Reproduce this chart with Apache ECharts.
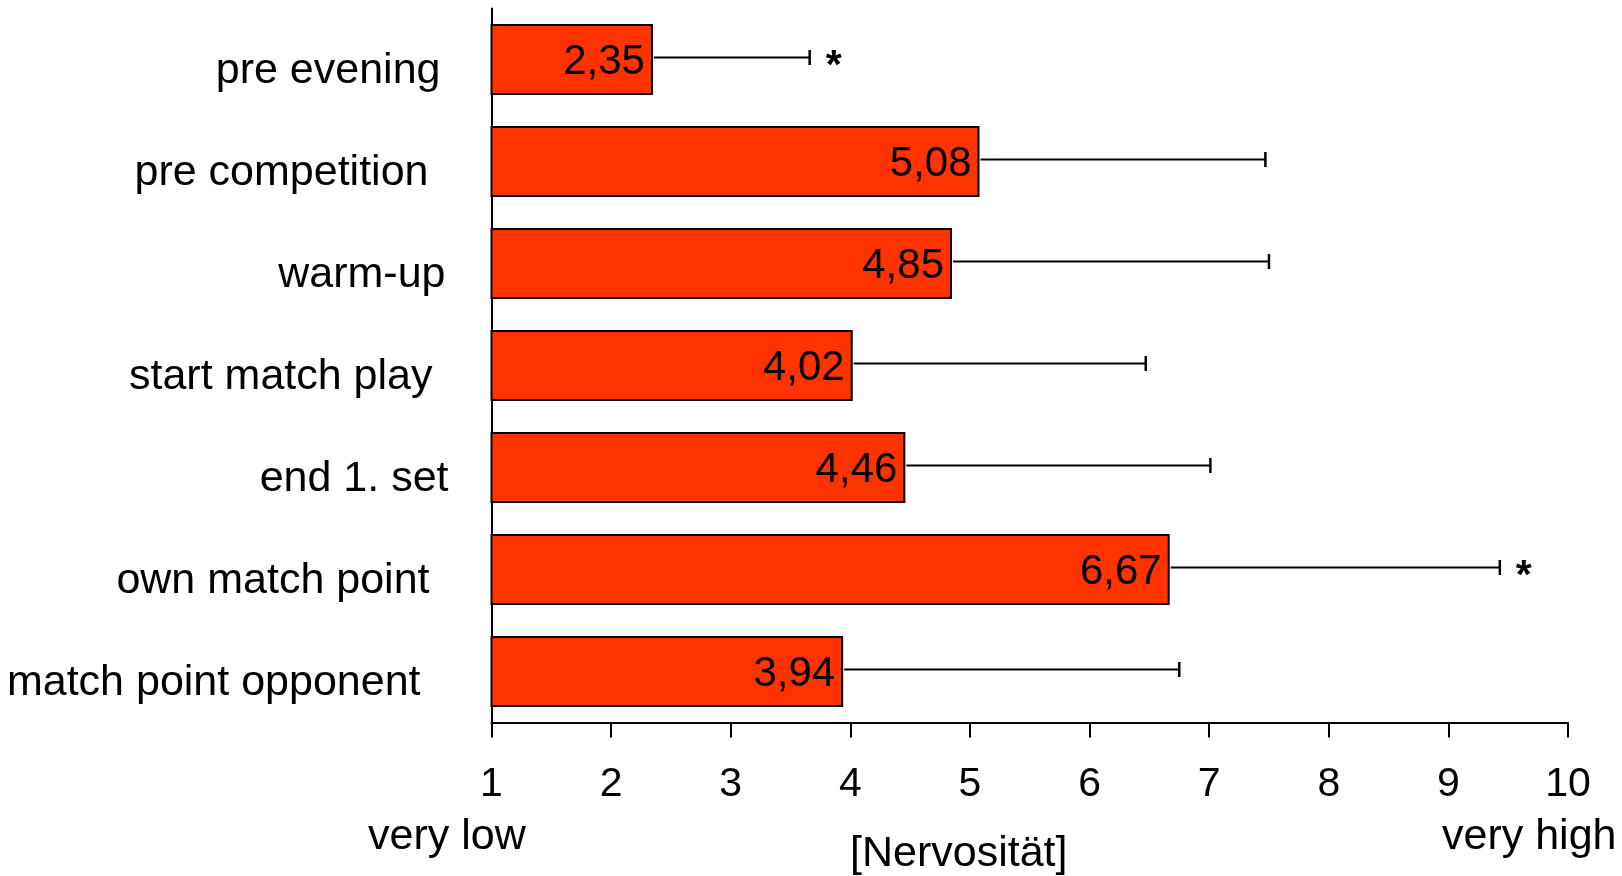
<!DOCTYPE html>
<html>
<head>
<meta charset="utf-8">
<title>Nervosität</title>
<script src="https://cdn.jsdelivr.net/npm/echarts@6/dist/echarts.min.js"></script>
<style>
  html, body { margin: 0; padding: 0; background: #ffffff; }
  #chart { width: 1622px; height: 876px; }
</style>
</head>
<body>
<div id="chart"></div>
<script>
// Phases of the match (top to bottom)
const categories = [
  'pre evening',
  'pre competition',
  'warm-up',
  'start match play',
  'end 1. set',
  'own match point',
  'match point opponent'
];
// Mean nervousness rating (scale 1 = very low ... 10 = very high)
const means = [2.35, 5.08, 4.85, 4.02, 4.46, 6.67, 3.94];
// Standard deviation (drawn as one-sided error bar)
const sds = [1.31, 2.39, 2.65, 2.45, 2.55, 2.76, 2.81];
// Significance markers
const marks = ['*', '', '', '', '', '*', ''];
// Value axis tick values
const ticks = [1, 2, 3, 4, 5, 6, 7, 8, 9, 10];

const FONT = '"Liberation Sans", Arial, Helvetica, sans-serif';
const FS = 41;     // tick and value labels
const FS_CAT = 43; // category names and captions

// Small per-label right indents of the category names
const labelIndent = [8, 20, 3, 16, 0, 19, 28];
const richLabels = {};
labelIndent.forEach(function (pad, i) {
  richLabels['c' + i] = {
    fontFamily: FONT, fontSize: FS_CAT, color: '#000',
    padding: [24, pad, 0, 0]
  };
});

const fmt = function (v) { return v.toFixed(2).replace('.', ','); };

const chart = echarts.init(document.getElementById('chart'));

chart.setOption({
  backgroundColor: '#ffffff',
  animation: false,
  grid: {
    left: 491.5, right: 54, top: 8.5, bottom: 153.5,
    containLabel: false,
    outerBoundsMode: 'none'
  },
  xAxis: {
    type: 'value',
    min: ticks[0],
    max: ticks[ticks.length - 1],
    interval: 1,
    splitLine: { show: false },
    axisLine: { show: true, lineStyle: { color: '#000', width: 2 } },
    axisTick: { show: true, length: 15, lineStyle: { color: '#000', width: 2 } },
    axisLabel: {
      margin: 42,
      fontFamily: FONT, fontSize: FS, color: '#000',
      formatter: function (v) { return ticks.indexOf(v) >= 0 ? String(v) : ''; }
    },
    name: '[Nervosität]',
    nameLocation: 'middle',
    nameGap: 110,
    nameTextStyle: {
      fontFamily: FONT, fontSize: FS_CAT, color: '#000',
      padding: [0, 142, 0, 0]
    }
  },
  yAxis: {
    type: 'category',
    inverse: true,
    data: categories,
    axisLine: { show: true, lineStyle: { color: '#000', width: 2 } },
    axisTick: { show: false },
    axisLabel: {
      margin: 43,
      formatter: function (v) {
        const i = categories.indexOf(v);
        return '{c' + i + '|' + v + '}';
      },
      rich: richLabels
    }
  },
  graphic: [
    {
      type: 'text', left: 368, top: 816,
      style: { text: 'very low', fontFamily: FONT, fontSize: FS_CAT, fill: '#000' }
    },
    {
      type: 'text', left: 1442, top: 816,
      style: { text: 'very high', fontFamily: FONT, fontSize: FS_CAT, fill: '#000' }
    }
  ],
  series: [
    {
      type: 'bar',
      data: means,
      barWidth: 71,
      clip: true,
      itemStyle: { color: '#ff3300', borderColor: '#000', borderWidth: 2 },
      label: {
        show: true,
        position: 'insideRight',
        distance: 8,
        offset: [0, 3],
        fontFamily: FONT, fontSize: 42, color: '#000',
        formatter: function (p) { return fmt(p.value); }
      },
      z: 2
    },
    {
      // One-sided error bars with significance markers
      type: 'custom',
      data: means.map(function (m, i) { return [m, i, m + sds[i], marks[i]]; }),
      encode: { x: [0, 2], y: 1 },
      renderItem: function (params, api) {
        const i = api.value(1);
        const start = api.coord([api.value(0), i]);
        const end = api.coord([api.value(2), i]);
        const y = start[1] - 2;
        const x0 = start[0] + 1;
        const x1 = end[0];
        const children = [
          { type: 'line', shape: { x1: x0, y1: y, x2: x1, y2: y },
            style: { stroke: '#000', lineWidth: 2 } },
          { type: 'line', shape: { x1: x1, y1: y - 7.5, x2: x1, y2: y + 7.5 },
            style: { stroke: '#000', lineWidth: 2.5 } }
        ];
        const mk = marks[params.dataIndex];
        if (mk) {
          children.push({
            type: 'text',
            style: {
              text: mk, x: x1 + 24, y: y + 9,
              align: 'center', verticalAlign: 'middle',
              fontFamily: FONT, fontSize: FS, fontWeight: 'bold', fill: '#000'
            }
          });
        }
        return { type: 'group', children: children };
      },
      z: 3
    }
  ]
});
</script>
</body>
</html>
